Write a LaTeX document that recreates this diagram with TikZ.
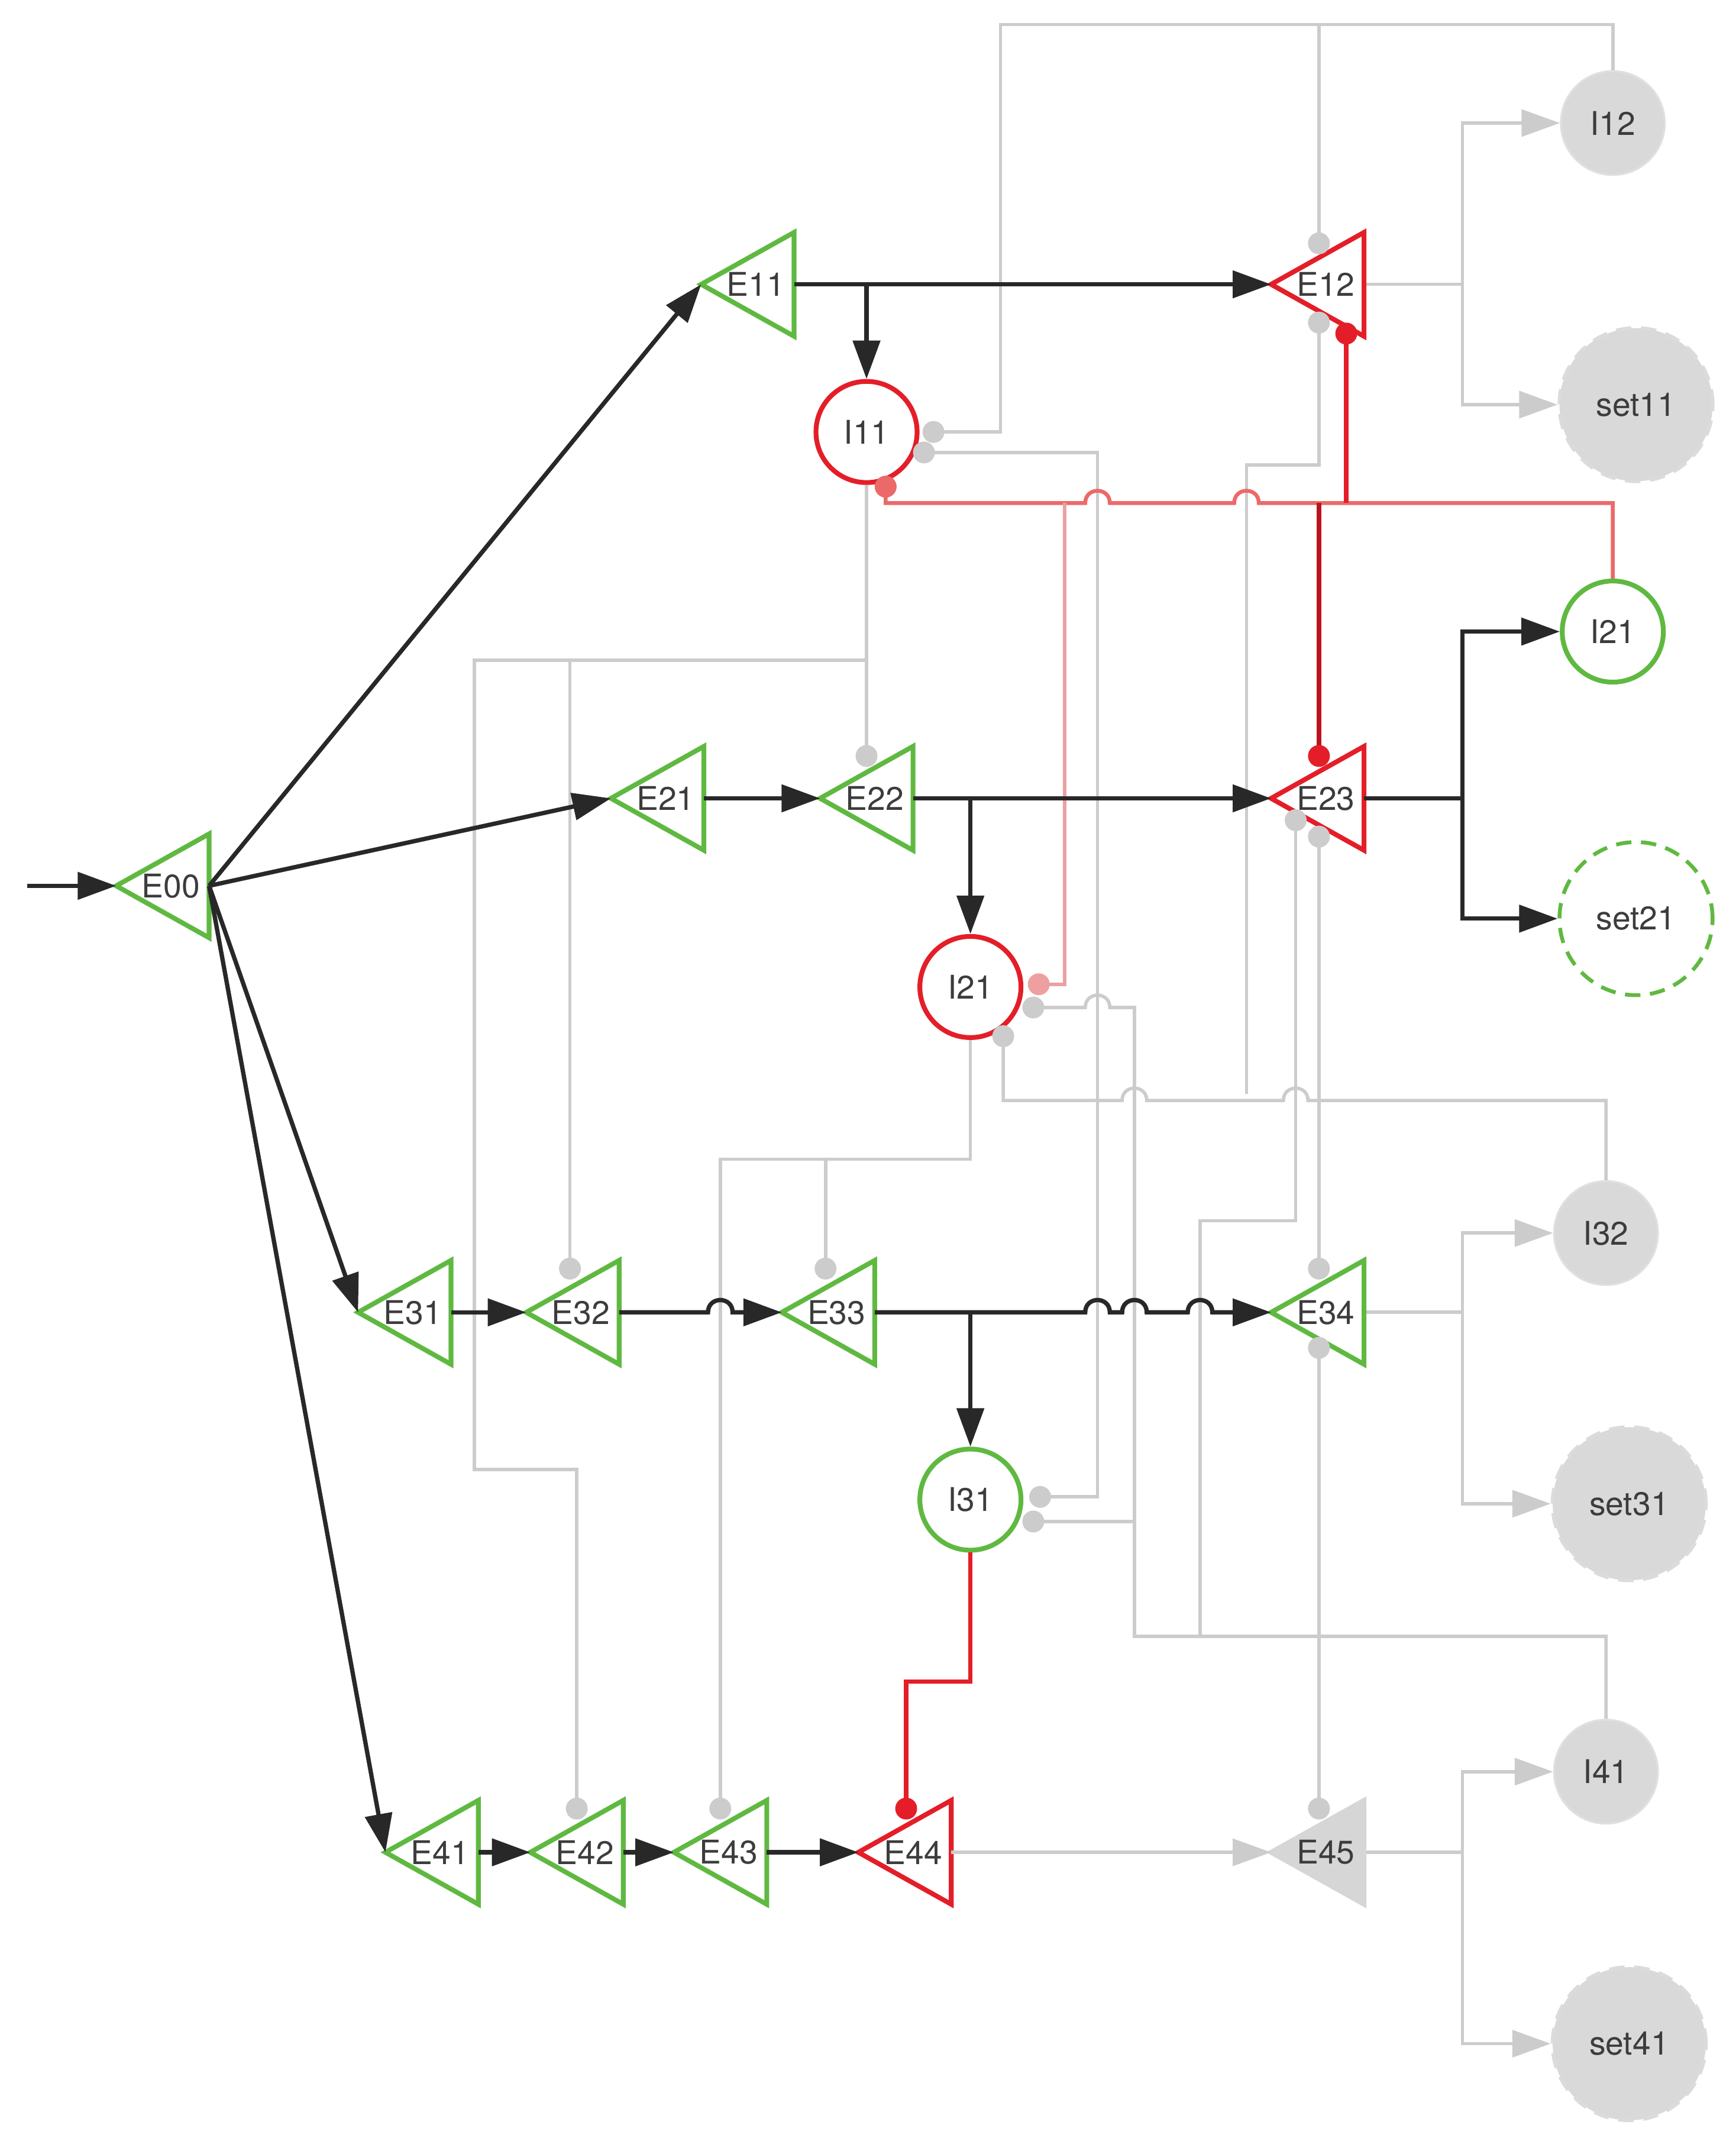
\documentclass[tikz,border=0pt]{standalone}
\usepackage{fontspec}
\setmainfont{TeX Gyre Heros}
\usetikzlibrary{arrows.meta}
\definecolor{grn}{RGB}{95,185,65}
\definecolor{rd}{RGB}{228,30,40}
\definecolor{pk}{RGB}{236,105,105}
\definecolor{lpk}{RGB}{238,160,160}
\definecolor{drd}{RGB}{185,20,30}
\definecolor{lg}{RGB}{204,204,204}
\definecolor{blk}{RGB}{40,40,40}
\definecolor{txt}{RGB}{60,60,60}
\newcommand\hopx[2]{-- ({#1-9},#2) .. controls ({#1-9},{#2-12}) and ({#1+9},{#2-12}) .. ({#1+9},#2)}
\newcommand\tri[5]{%
  \draw[line width=5pt,line join=miter,draw=#4,fill=#5] (#2,#3) -- ++(68,-38) -- ++(0,76) -- cycle;
  \coordinate (#1a) at (#2,#3); \coordinate (#1r) at ({#2+68},#3);
  \node[lbl] (#1) at ({#2+40},#3) {#1};}
\begin{document}
\begin{tikzpicture}[x=0.05cm,y=-0.05cm,
  lbl/.style={font=\fontsize{34}{36}\selectfont,text=txt,inner sep=0pt},
  circ/.style={circle,minimum size=3.7cm,line width=5pt,font=\fontsize{34}{36}\selectfont,text=txt,fill=white},
  gcirc/.style={circle,minimum size=3.8cm,line width=2pt,draw=lg!60,fill=lg!75,font=\fontsize{34}{36}\selectfont,text=txt},
  scirc/.style={circle,minimum size=5.6cm,line width=4pt,dashed,dash pattern=on 16pt off 10pt,font=\fontsize{34}{36}\selectfont,text=txt},
  bl/.style={draw=blk,line width=4.5pt},
  gl/.style={draw=lg,line width=3.5pt},
  arr/.style={-{Triangle[length=40pt,width=28pt]}},
  gdot/.style={fill=lg},
  rdot/.style={fill=rd}]
\useasboundingbox (0,0) rectangle (1270,1564);
% circles
\node[circ,draw=rd] (I11) at (634,316) {I11};
\node[circ,draw=rd] (I21r) at (710,722) {I21};
\node[circ,draw=grn] (I31) at (710,1097) {I31};
\node[circ,draw=grn] (I21g) at (1180,462) {I21};
\node[gcirc] (I12) at (1180,90) {I12};
\node[gcirc] (I32) at (1175,902) {I32};
\node[gcirc] (I41) at (1175,1296) {I41};
\node[scirc,draw=lg!70,fill=lg!75] (set11) at (1197,296) {set11};
\node[scirc,draw=grn,fill=white] (set21) at (1197,672) {set21};
\node[scirc,draw=lg!70,fill=lg!75] (set31) at (1192,1100) {set31};
\node[scirc,draw=lg!70,fill=lg!75] (set41) at (1192,1495) {set41};
% gray connectors
\draw[gl] (I12.north) -- (1180,18) -- (732,18) -- (732,316) -- (683,316);
\draw[gl] (965,18) -- (965,178);
\draw[gl] (676,331) -- (803,331) -- (803,1095) -- (761,1095);
\draw[gl] (965,236) -- (965,340) -- (912,340) -- (912,800);
\draw[gl] (I11.south) -- (634,553);
\draw[gl] (634,483) -- (347,483) -- (347,1075) -- (422,1075) -- (422,1323);
\draw[gl] (417,483) -- (417,928);
\draw[gl] (756,737) \hopx{803}{737} -- (830,737) -- (830,1197) -- (1175,1197) -- (I41.north);
\draw[gl] (756,1113) -- (830,1113);
\draw[gl] (878,1197) -- (878,893) -- (948,893) -- (948,600);
\draw[gl] (965,612) -- (965,928);
\draw[gl] (965,986) -- (965,1323);
\draw[gl] (734,758) -- (734,805) \hopx{830}{805} \hopx{948}{805} -- (1175,805) -- (I32.north);
\draw[gl] (I21r.south) -- (710,848) -- (527,848) -- (527,1323);
\draw[gl] (604,848) -- (604,928);
% gray outputs
\draw[gl] (998,208) -- (1070,208);
\draw[gl,arr] (1070,208) |- (I12.west);
\draw[gl,arr] (1070,208) |- (set11.west);
\draw[gl] (998,960) -- (1070,960);
\draw[gl,arr] (1070,960) |- (I32.west);
\draw[gl,arr] (1070,960) |- (set31.west);
\draw[gl] (998,1355) -- (1070,1355);
\draw[gl,arr] (1070,1355) |- (I41.west);
\draw[gl,arr] (1070,1355) |- (set41.west);
% red connectors
\draw[draw=pk,line width=4pt] (648,356) -- (648,368) \hopx{803}{368} \hopx{912}{368} -- (1180,368) -- (I21g.north);
\draw[draw=rd,line width=4.5pt] (985,244) -- (985,368);
\draw[draw=drd,line width=4.5pt] (965,368) -- (965,553);
\draw[draw=lpk,line width=4pt] (760,720) -- (779,720) -- (779,368);
\draw[draw=rd,line width=4.5pt] (I31.south) -- (710,1230) -- (663,1230) -- (663,1323);
% triangles
\tri{E00}{85}{648}{grn}{white}
\tri{E11}{513}{208}{grn}{white}
\tri{E12}{930}{208}{rd}{white}
\tri{E21}{447}{584}{grn}{white}
\tri{E22}{600}{584}{grn}{white}
\tri{E23}{930}{584}{rd}{white}
\tri{E31}{262}{960}{grn}{white}
\tri{E32}{385}{960}{grn}{white}
\tri{E33}{572}{960}{grn}{white}
\tri{E34}{930}{960}{grn}{white}
\tri{E41}{282}{1355}{grn}{white}
\tri{E42}{388}{1355}{grn}{white}
\tri{E43}{493}{1355}{grn}{white}
\tri{E44}{628}{1355}{rd}{white}
\tri{E45}{930}{1355}{lg!80}{lg!80}
\draw[gl,arr] (E44r) -- (E45a);
% black connectors
\coordinate (in) at (20,648);
\draw[bl,arr] (in) -- (E00a);
\draw[bl,arr] (E00r) -- (E11a);
\draw[bl,arr] (E00r) -- (E21a);
\draw[bl,arr] (E00r) -- (E31a);
\draw[bl,arr] (E00r) -- (E41a);
\draw[bl,arr] (E11r) -- (E12a);
\draw[bl,arr] (634,208) -- (I11.north);
\draw[bl,arr] (E21r) -- (E22a);
\draw[bl,arr] (E22r) -- (E23a);
\draw[bl,arr] (710,584) -- (I21r.north);
\draw[bl] (E23r) -- (1070,584);
\draw[bl,arr] (1070,584) |- (I21g.west);
\draw[bl,arr] (1070,584) |- (set21.west);
\draw[bl,arr] (E31r) -- (E32a);
\draw[bl,arr] (E32r) \hopx{527}{960} -- (E33a);
\draw[bl,arr] (E33r) \hopx{803}{960} \hopx{830}{960} \hopx{878}{960} -- (E34a);
\draw[bl,arr] (710,960) -- (I31.north);
\draw[bl,arr] (E41r) -- (E42a);
\draw[bl,arr] (E42r) -- (E43a);
\draw[bl,arr] (E43r) -- (E44a);
% port dots
\foreach \p in {(683,316),(676,331),(965,178),(965,236),(634,553),(417,928),(422,1323),(756,737),(734,758),(761,1095),(756,1113),(948,600),(965,612),(965,928),(965,986),(965,1323),(527,1323),(604,928)}
  \fill[gdot] \p circle[radius=0.4cm];
\foreach \p in {(985,244),(965,553),(663,1323)}
  \fill[rdot] \p circle[radius=0.4cm];
\fill[pk] (648,356) circle[radius=0.4cm];
\fill[lpk] (760,720) circle[radius=0.4cm];
\end{tikzpicture}
\end{document}
